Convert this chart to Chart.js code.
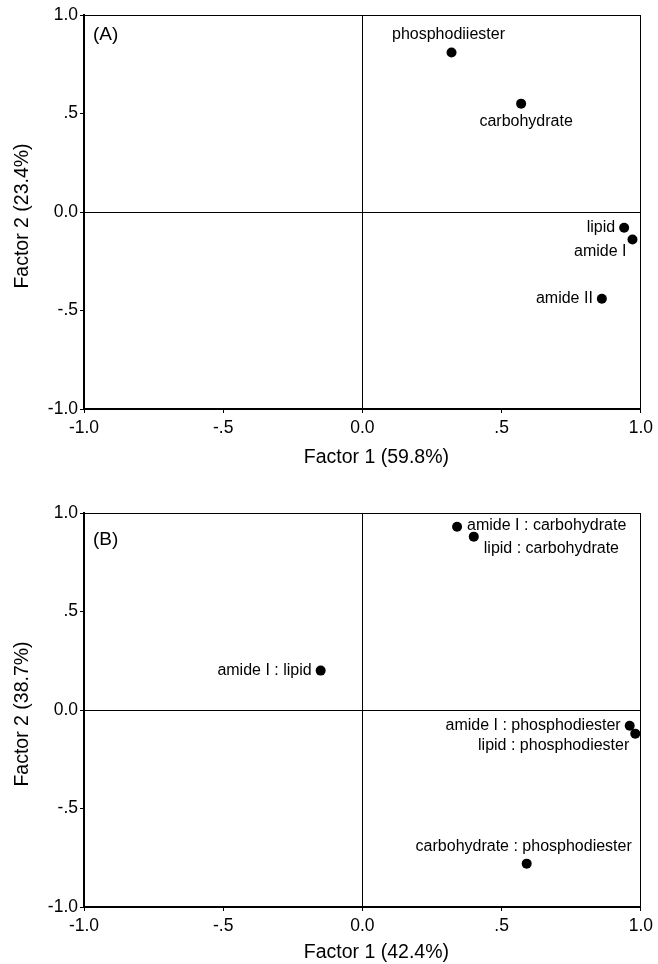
<!DOCTYPE html>
<html lang="en">
<head>
<meta charset="UTF-8" />
<title>Factor loading plots</title>
<script src="https://cdn.jsdelivr.net/npm/chart.js"></script>
<style>
  body { margin: 0; background: #fff; }
  .panel { position: absolute; left: 0; width: 658px; height: 482px; }
  #panelA { top: 0; }
  #panelB { top: 482px; }
</style>
</head>
<body>
<div class="panel" id="panelA"><canvas id="chartA" width="658" height="482"></canvas></div>
<div class="panel" id="panelB"><canvas id="chartB" width="658" height="482"></canvas></div>

<script>
  // (A) single band variables
  const namesA = ['phosphodiiester', 'carbohydrate', 'lipid', 'amide I', 'amide II'];
  const factor1A = [0.32, 0.57, 0.94, 0.97, 0.86];
  const factor2A = [0.81, 0.55, -0.08, -0.14, -0.44];

  // (B) band ratios
  const namesB = ['amide I : carbohydrate', 'lipid : carbohydrate', 'amide I : lipid',
                  'amide I : phosphodiester', 'lipid : phosphodiester', 'carbohydrate : phosphodiester'];
  const factor1B = [0.34, 0.40, -0.15, 0.96, 0.98, 0.59];
  const factor2B = [0.93, 0.88, 0.20, -0.08, -0.12, -0.78];

  // shared axis ticks
  const tickValues = [-1, -0.5, 0, 0.5, 1];
  const tickLabels = ['-1.0', '-.5', '0.0', '.5', '1.0'];

  const FONT = '"Liberation Sans", Arial, Helvetica, sans-serif';
  Chart.defaults.font.family = FONT;
  Chart.defaults.color = '#000';

  // where each point label sits relative to its dot
  const placeA = ['above', 'below', 'left', 'belowLeft', 'left'];
  const placeB = ['right', 'belowRight', 'left', 'left', 'belowLeft', 'above'];

  const pointLabels = {
    id: 'pointLabels',
    afterDatasetsDraw(chart, args, opts) {
      const ctx = chart.ctx;
      const pts = chart.getDatasetMeta(0).data;
      ctx.save();
      ctx.fillStyle = '#000';
      ctx.font = '16px ' + FONT;
      pts.forEach((p, i) => {
        const name = opts.names[i];
        switch (opts.places[i]) {
          case 'above':
            ctx.textAlign = 'center'; ctx.textBaseline = 'alphabetic';
            ctx.fillText(name, p.x - 3, p.y - 13);
            break;
          case 'below':
            ctx.textAlign = 'center'; ctx.textBaseline = 'top';
            ctx.fillText(name, p.x + 5, p.y + 10);
            break;
          case 'left':
            ctx.textAlign = 'right'; ctx.textBaseline = 'middle';
            ctx.fillText(name, p.x - 9, p.y);
            break;
          case 'belowLeft':
            ctx.textAlign = 'right'; ctx.textBaseline = 'top';
            ctx.fillText(name, p.x - 6, p.y + 4);
            break;
          case 'right':
            ctx.textAlign = 'left'; ctx.textBaseline = 'middle';
            ctx.fillText(name, p.x + 10, p.y - 1);
            break;
          case 'belowRight':
            ctx.textAlign = 'left'; ctx.textBaseline = 'top';
            ctx.fillText(name, p.x + 10, p.y + 4);
            break;
        }
      });
      ctx.restore();
    }
  };

  // axis titles and the (A)/(B) tag, placed off the chart area
  const axisTitles = {
    id: 'axisTitles',
    afterDraw(chart, args, opts) {
      const {ctx, chartArea: a} = chart;
      ctx.save();
      ctx.fillStyle = '#000';
      ctx.textBaseline = 'middle';
      ctx.textAlign = 'center';
      ctx.font = '19.5px ' + FONT;
      ctx.fillText(opts.x, (a.left + a.right) / 2 + 14, a.bottom + opts.xGap);
      ctx.save();
      ctx.translate(23, (a.top + a.bottom) / 2 + 4);
      ctx.rotate(-Math.PI / 2);
      ctx.fillText(opts.y, 0, 0);
      ctx.restore();
      ctx.textAlign = 'left';
      ctx.font = '19px ' + FONT;
      ctx.fillText(opts.tag, a.left + 9, a.top + opts.tagGap);
      ctx.restore();
    }
  };

  function axis(isX, fit) {
    return {
      type: 'linear',
      min: -1,
      max: 1,
      afterFit: fit,
      ticks: {
        stepSize: 0.5,
        padding: isX ? 5 : 2,
        color: '#000',
        font: { size: 17.5 },
        callback: v => {
          const i = tickValues.indexOf(v);
          return i < 0 ? '' : tickLabels[i];
        }
      },
      grid: {
        color: c => (c.tick && (c.tick.value === 0 || c.tick.value === 1)) ? '#000' : 'rgba(0,0,0,0)',
        lineWidth: 1,
        tickColor: '#000',
        tickLength: 4
      },
      border: { display: true, color: '#000', width: 2 }
    };
  }

  function makeChart(id, xs, ys, names, places, xTitle, yTitle, tag, top, bottom, xGap, tagGap) {
    const ctx = document.getElementById(id).getContext('2d');
    return new Chart(ctx, {
      type: 'scatter',
      data: {
        datasets: [{
          data: xs.map((x, i) => ({ x: x, y: ys[i] })),
          backgroundColor: '#000',
          borderColor: '#000',
          borderWidth: 0,
          pointRadius: 5,
          pointHoverRadius: 5
        }]
      },
      options: {
        responsive: false,
        animation: false,
        events: [],
        layout: { padding: { top: top, right: 17, left: 0, bottom: 0 } },
        scales: {
          x: axis(true, s => { s.height = 482 - bottom; }),
          y: axis(false, s => { s.width = 84; })
        },
        plugins: {
          legend: { display: false },
          tooltip: { enabled: false },
          pointLabels: { names: names, places: places },
          axisTitles: { x: xTitle, y: yTitle, tag: tag, xGap: xGap, tagGap: tagGap }
        }
      },
      plugins: [pointLabels, axisTitles]
    });
  }

  makeChart('chartA', factor1A, factor2A, namesA, placeA,
            'Factor 1 (59.8%)', 'Factor 2 (23.4%)', '(A)', 15, 409, 49, 20);
  makeChart('chartB', factor1B, factor2B, namesB, placeB,
            'Factor 1 (42.4%)', 'Factor 2 (38.7%)', '(B)', 31, 425, 46, 27);
</script>
</body>
</html>
